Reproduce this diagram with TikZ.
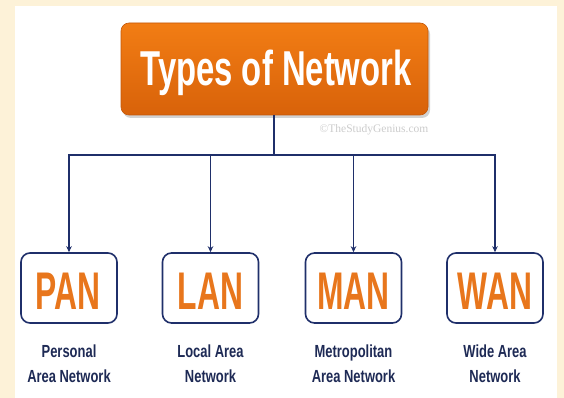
\documentclass[tikz,border=0pt]{standalone}
\usepackage{fontspec}
\usetikzlibrary{arrows.meta,shadows}
\setmainfont{Liberation Sans}
\newfontfamily\titlefont[FakeStretch=0.67]{Liberation Sans Bold}
\newfontfamily\acrofont[FakeStretch=0.60]{Liberation Sans Bold}
\newfontfamily\labelfont[FakeStretch=0.74]{Liberation Sans Bold}
\newfontfamily\markfont{Liberation Serif}

\definecolor{cream}{HTML}{FDF2D8}
\definecolor{navy}{HTML}{1F2F6A}
\definecolor{labelnavy}{HTML}{1E2A55}
\definecolor{orangetop}{HTML}{F27D14}
\definecolor{orangebot}{HTML}{D8620A}
\definecolor{orangeedge}{HTML}{C4580A}
\definecolor{acroorange}{HTML}{E8761C}

\tikzset{
  headbox/.style={rectangle, rounded corners=8pt, draw=orangeedge, line width=0.6pt,
    top color=orangetop, bottom color=orangebot,
    minimum width=307pt, minimum height=92pt, inner sep=0pt,
    drop shadow={opacity=0.35, shadow xshift=2pt, shadow yshift=-3pt}},
  headtext/.style={anchor=base, text=white, font=\titlefont\fontsize{49}{49}\selectfont, inner sep=0pt},
  kindbox/.style={rectangle, rounded corners=9pt, draw=navy, line width=1.6pt, fill=white,
    minimum width=96pt, minimum height=70pt, inner sep=0pt},
  kindtext/.style={anchor=base, text=acroorange, font=\acrofont\fontsize{53}{53}\selectfont, inner sep=0pt},
  kindlabel/.style={anchor=base, text=labelnavy, font=\labelfont\fontsize{17.5}{17.5}\selectfont, inner sep=0pt},
  link/.style={draw=navy, line width=1.8pt},
  linkarrow/.style={link, -{Stealth[length=6pt,width=5.5pt]}},
  watermark/.style={anchor=base, text=black!20, font=\markfont\fontsize{11.5}{11.5}\selectfont, inner sep=0pt}
}

\begin{document}
\begin{tikzpicture}[x=1pt,y=-1pt]
  % page frame: cream margin around a white sheet
  \fill[cream] (0,0) rectangle (564,398);
  \fill[white] (15,6) rectangle (557,398);
  \useasboundingbox (0,0) rectangle (564,398);

  % heading
  \node[headbox] (head) at (274.5,69) {};
  \node[headtext] (headlabel) at (276,86) {Types of Network};
  \node[watermark] (mark) at (374,133) {\textcopyright TheStudyGenius.com};

  % the four network kinds
  \node[kindbox] (pan) at (69,288) {};
  \node[kindbox] (lan) at (210.5,288) {};
  \node[kindbox] (man) at (353.5,288) {};
  \node[kindbox] (wan) at (495,288) {};

  \node[kindtext] (pant) at (68,309) {PAN};
  \node[kindtext] (lant) at (210.5,309) {LAN};
  \node[kindtext] (mant) at (353.5,309) {MAN};
  \node[kindtext] (want) at (495,309) {WAN};

  \node[kindlabel] (panl1) at (69,357) {Personal};
  \node[kindlabel] (panl2) at (69,382) {Area Network};
  \node[kindlabel] (lanl1) at (210.5,357) {Local Area};
  \node[kindlabel] (lanl2) at (210.5,382) {Network};
  \node[kindlabel] (manl1) at (353.5,357) {Metropolitan};
  \node[kindlabel] (manl2) at (353.5,382) {Area Network};
  \node[kindlabel] (wanl1) at (495,357) {Wide Area};
  \node[kindlabel] (wanl2) at (495,382) {Network};

  % connectors
  \coordinate (hub) at (274,155);
  \draw[link] (head.south -| hub) -- (hub);
  \draw[link, line cap=rect] (pan.north |- hub) -- (wan.north |- hub);
  \draw[linkarrow] (pan.north |- hub) -- (pan.north);
  \draw[linkarrow] (lan.north |- hub) -- (lan.north);
  \draw[linkarrow] (man.north |- hub) -- (man.north);
  \draw[linkarrow] (wan.north |- hub) -- (wan.north);
\end{tikzpicture}
\end{document}
